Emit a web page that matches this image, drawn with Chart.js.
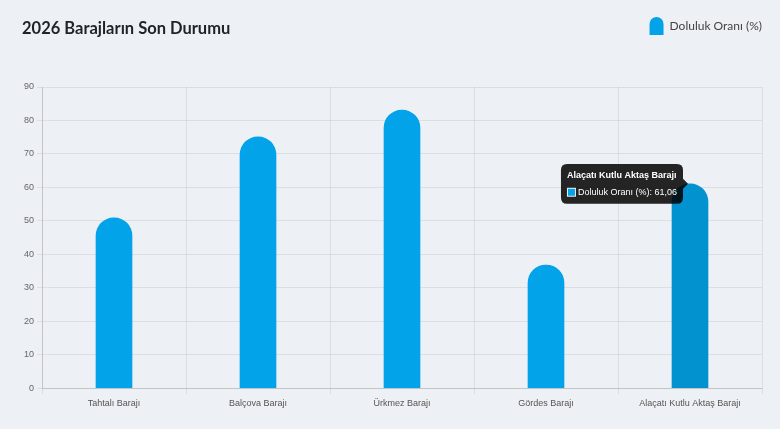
<!DOCTYPE html>
<html lang="tr">
<head>
<meta charset="utf-8">
<script src="https://cdn.jsdelivr.net/npm/chart.js@4"></script>
<style>
  html, body { margin: 0; padding: 0; background: #edf0f4; }
  #wrap { position: relative; width: 780px; height: 429px; }
  #title {
    position: absolute; left: 22px; top: 18px; margin: 0;
    font: 700 16.5px 'Lato', 'Noto Sans', sans-serif; color: #1f2329;
  }
</style>
</head>
<body>
<div id="wrap">
  <h2 id="title">2026 Barajların Son Durumu</h2>
  <canvas id="dam-chart" width="780" height="429"></canvas>
</div>
<script>
// baraj isimleri ve doluluk oranlari
const damNames = ['Tahtalı Barajı', 'Balçova Barajı', 'Ürkmez Barajı', 'Gördes Barajı', 'Alaçatı Kutlu Aktaş Barajı'];
const fillRates = [50.9, 75.1, 83.1, 36.8, 61.06];
const seriesLabel = 'Doluluk Oranı (%)';

// legend ile grafik arasina bosluk
const legendSpacer = {
  id: 'legendSpacer',
  beforeInit(chart) {
    const origFit = chart.legend.fit;
    chart.legend.fit = function fit() {
      origFit.bind(chart.legend)();
      this.height += 42;
    };
  },
};

const ctx = document.getElementById('dam-chart').getContext('2d');

const damChart = new Chart(ctx, {
  type: 'bar',
  data: {
    labels: damNames,
    datasets: [
      {
        label: seriesLabel,
        data: fillRates,
        backgroundColor: '#03a3e9',
        hoverBackgroundColor: '#0292d0',
        borderRadius: { topLeft: 18, topRight: 18, bottomLeft: 0, bottomRight: 0 },
        borderSkipped: 'bottom',
        barThickness: 36,
      },
    ],
  },
  plugins: [legendSpacer],
  options: {
    responsive: false,
    animation: false,
    locale: 'tr-TR',
    layout: {
      padding: { left: 21, right: 18, top: 17, bottom: 16 },
    },
    plugins: {
      legend: {
        position: 'top',
        align: 'end',
        labels: {
          boxWidth: 14,
          boxHeight: 18,
          useBorderRadius: true,
          borderRadius: { topLeft: 7, topRight: 7, bottomLeft: 0, bottomRight: 0 },
          color: '#444',
          font: { family: "'Lato', 'Noto Sans', sans-serif", size: 12 },
          padding: 0,
        },
      },
      tooltip: {
        backgroundColor: 'rgba(0,0,0,0.85)',
        titleFont: { family: "'Liberation Sans', Arial, sans-serif", size: 9, weight: 'bold' },
        bodyFont: { family: "'Liberation Sans', Arial, sans-serif", size: 9 },
        padding: 6,
        boxWidth: 9,
        boxHeight: 9,
        caretSize: 5,
      },
    },
    scales: {
      x: {
        grid: { color: 'rgba(0,0,0,0.07)', tickLength: 6 },
        border: { color: 'rgba(0,0,0,0.12)' },
        ticks: {
          color: '#555',
          font: { family: "'Liberation Sans', Arial, sans-serif", size: 9 },
          padding: 4,
        },
      },
      y: {
        min: 0,
        max: 90,
        grid: { color: 'rgba(0,0,0,0.07)', tickLength: 5 },
        border: { color: 'rgba(0,0,0,0.12)' },
        ticks: {
          stepSize: 10,
          color: '#666',
          font: { family: "'Liberation Sans', Arial, sans-serif", size: 9 },
          padding: 3,
        },
      },
    },
  },
});

// son barajin tooltip'ini acik goster
const active = [{ datasetIndex: 0, index: 4 }];
damChart.setActiveElements(active);
const bar = damChart.getDatasetMeta(0).data[4];
damChart.tooltip.setActiveElements(active, { x: bar.x, y: bar.y });
damChart.update();
</script>
</body>
</html>
